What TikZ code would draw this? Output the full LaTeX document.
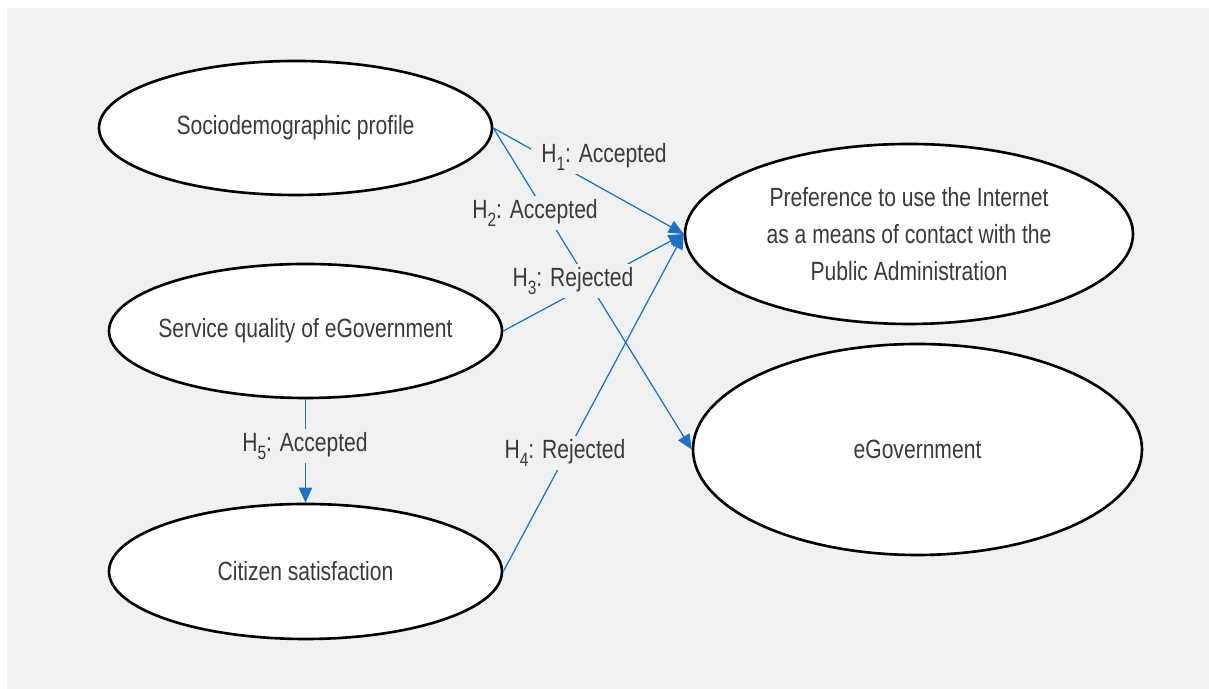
\documentclass[tikz,border=0pt]{standalone}
\usepackage{fontspec}
\setmainfont{Liberation Sans}[FakeStretch=0.8]
\usetikzlibrary{shapes.geometric, arrows.meta}
\definecolor{panelgray}{RGB}{240,241,243}
\definecolor{linkblue}{RGB}{31,112,193}
\definecolor{textgray}{RGB}{58,58,58}
\newcommand{\hsub}[1]{\raisebox{-0.3em}{\fontsize{11}{11}\selectfont#1}}

\begin{document}
\begin{tikzpicture}[
  construct/.style={ellipse, draw=black, line width=1.5pt, fill=white, text=textgray,
                    font=\fontsize{15}{21}\selectfont, align=center,
                    inner xsep=-1cm, inner ysep=0pt},
  hyp/.style={fill=panelgray, text=textgray, font=\fontsize{15}{18}\selectfont,
              inner xsep=6pt, inner ysep=2pt},
  arr/.style={-{Triangle[length=8.5pt, width=7.5pt]}, linkblue, line width=0.7pt}
]
  \useasboundingbox (0,0) rectangle (24.18,13.78);
  \fill[panelgray] (0.14,0) rectangle (24.18,13.62);
  % constructs
  \node[construct, minimum width=7.86cm, minimum height=2.68cm] (socio)   at (5.91,11.22) {Sociodemographic profile};
  \node[construct, minimum width=7.86cm, minimum height=2.68cm] (service) at (6.11,7.16)  {Service quality of eGovernment};
  \node[construct, minimum width=7.86cm, minimum height=2.70cm] (citizen) at (6.11,2.35)  {Citizen satisfaction};
  \node[construct, minimum width=8.96cm, minimum height=3.60cm] (pref)    at (18.18,9.10)
        {Preference to use the Internet\\as a means of contact with the\\Public Administration};
  \node[construct, minimum width=8.98cm, minimum height=4.22cm] (egov)    at (18.35,4.79) {eGovernment};
  % hypotheses
  \draw[arr] (socio.east) -- (pref.west);
  \draw[arr] (socio.east) -- (egov.west);
  \draw[arr] (service.east) -- (pref.west);
  \draw[arr] (citizen.east) -- (pref.west);
  \draw[arr] (service.south) -- (citizen.north);
  \node[hyp] (h1) at (12.08,10.64) {H\hsub{1}: Accepted};
  \node[hyp] (h2) at (10.70,9.52)  {H\hsub{2}: Accepted};
  \node[hyp] (h3) at (11.46,8.16)  {H\hsub{3}: Rejected};
  \node[hyp] (h4) at (11.30,4.72)  {H\hsub{4}: Rejected};
  \node[hyp] (h5) at (6.10,4.86)   {H\hsub{5}: Accepted};
\end{tikzpicture}
\end{document}
